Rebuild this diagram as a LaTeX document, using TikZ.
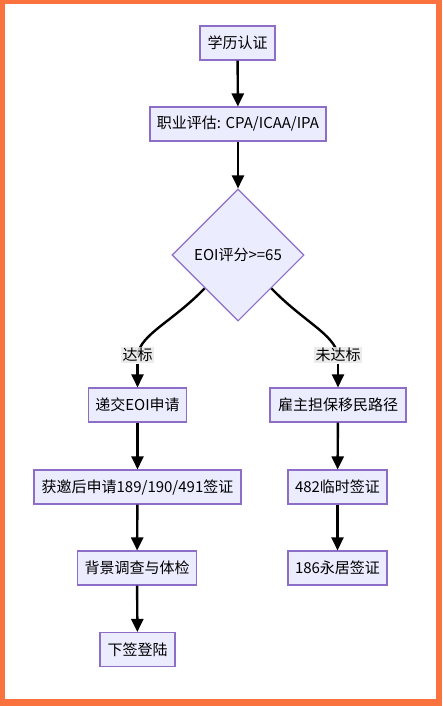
\documentclass[tikz,border=0pt]{standalone}
\usepackage{fontspec}
\setmainfont{Noto Sans CJK SC}
\usetikzlibrary{shapes.geometric,arrows.meta,backgrounds}
\definecolor{frameorange}{RGB}{250,115,62}
\definecolor{nodefill}{RGB}{236,236,255}
\definecolor{nodeline}{RGB}{140,110,200}
\definecolor{labelfill}{RGB}{232,232,232}
\tikzset{
  box/.style={draw=nodeline, fill=nodefill, line width=1.1pt, minimum height=34pt,
    inner xsep=7pt, inner ysep=0pt, font=\fontsize{15}{17}\selectfont},
  decision/.style={diamond, draw=nodeline, fill=nodefill, line width=1.1pt,
    minimum width=132pt, minimum height=132pt, inner sep=0pt, aspect=1,
    font=\fontsize{15}{17}\selectfont},
  elabel/.style={fill=labelfill, fill opacity=0.85, text opacity=1, inner sep=1.5pt,
    font=\fontsize{15}{17}\selectfont},
  edge/.style={line width=2.4pt},
  arr/.style={edge, -{Triangle[length=13pt,width=12pt]}},
}
\begin{document}
\begin{tikzpicture}[x=1pt,y=-1pt]
\useasboundingbox (0,0) rectangle (442,706);

\node[box, minimum width=75pt] (n1) at (237.5,43) {学历认证};
\node[box, minimum width=176pt] (n2) at (238,124) {职业评估: CPA/ICAA/IPA};
\node[decision] (d) at (238,255) {EOI评分>=65};
\node[box, minimum width=97pt] (a1) at (137.5,405) {递交EOI申请};
\node[box, minimum width=207pt] (a2) at (137.5,487) {获邀后申请189/190/491签证};
\node[box, minimum width=118pt] (a3) at (137,568) {背景调查与体检};
\node[box, minimum width=75pt] (a4) at (137.5,649.5) {下签登陆};
\node[box, minimum width=136pt] (b1) at (338,405) {雇主担保移民路径};
\node[box, minimum width=99pt] (b2) at (337.5,487) {482临时签证};
\node[box, minimum width=99pt] (b3) at (337.5,568) {186永居签证};
\node[elabel] (l1) at (137.5,355) {达标};
\node[elabel] (l2) at (338,355) {未达标};

\begin{scope}[on background layer]
\fill[frameorange] (0,0) rectangle (442,706);
\fill[white] (5,4) rectangle (436,699);
\draw[edge] (d.south west) .. controls (172,322) and (141,334) .. (l1.center);
\draw[edge] (d.south east) .. controls (304,322) and (334,334) .. (l2.center);
\end{scope}
\draw[arr] (l1.south) .. controls (137.5,372) .. (a1.north);
\draw[arr] (l2.south) .. controls (338,372) .. (b1.north);
\draw[arr] (n1) -- (n2);
\draw[arr] (n2) -- (d);
\draw[arr] (a1) -- (a2);
\draw[arr] (a2) -- (a3);
\draw[arr] (a3) -- (a4);
\draw[arr] (b1) -- (b2);
\draw[arr] (b2) -- (b3);
\end{tikzpicture}
\end{document}
